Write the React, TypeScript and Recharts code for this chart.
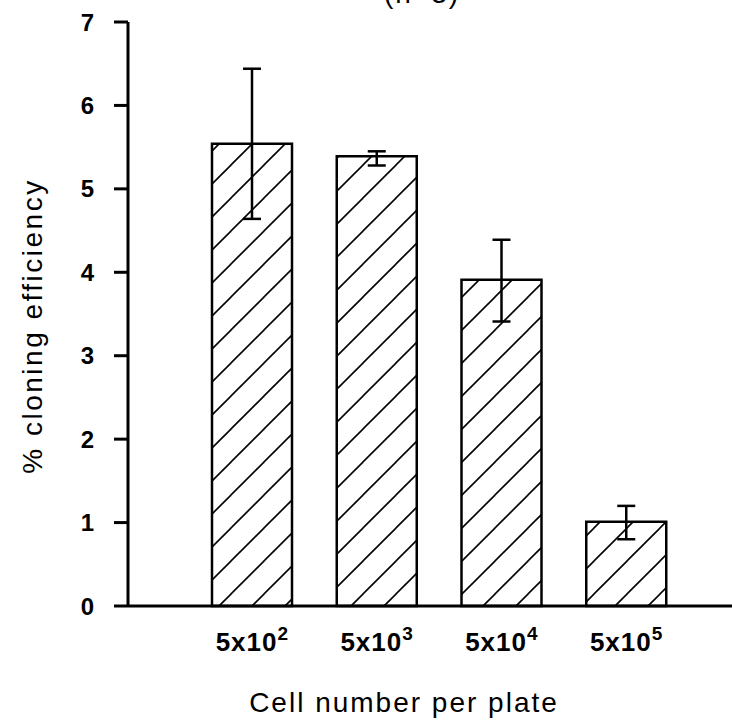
import { Bar, BarChart, ErrorBar, Label, XAxis, YAxis } from 'recharts';

const exponents = ['2', '3', '4', '5'];
const cloningEfficiency = [5.54, 5.39, 3.91, 1.01];
const errLower = [0.9, 0.11, 0.5, 0.21];
const errUpper = [0.9, 0.06, 0.48, 0.19];
const yTicks = [0, 1, 2, 3, 4, 5, 6, 7];

const data = exponents.map((e, i) => ({
  cells: '5x10^' + e,
  value: cloningEfficiency[i],
  err: [errLower[i], errUpper[i]],
}));

const FONT = '"Liberation Sans", Arial, sans-serif';

function CellTick(props: any) {
  const { x, y, payload } = props;
  const exp = String(payload.value).split('^')[1];
  return (
    <text
      x={x}
      y={y + 37}
      textAnchor="middle"
      fontFamily={FONT}
      fontSize={26}
      fontWeight="bold"
      fill="#000"
      letterSpacing={1}
    >
      5x10
      <tspan dy={-11} fontSize={19}>
        {exp}
      </tspan>
    </text>
  );
}

export default function App(): React.ReactElement {
  return (
    <div style={{ position: 'absolute', left: 0, top: 0, background: '#fff' }}>
      <BarChart
        width={732}
        height={724}
        data={data}
        margin={{ top: 22, right: 0, bottom: 0, left: 0 }}
        barCategoryGap={0}
      >
        <defs>
          <pattern id="hatch" patternUnits="userSpaceOnUse" width={33} height={33}>
            <line x1={0} y1={33} x2={33} y2={0} stroke="#000" strokeWidth={1.6} />
            <line x1={-3} y1={3} x2={3} y2={-3} stroke="#000" strokeWidth={1.6} />
            <line x1={30} y1={36} x2={36} y2={30} stroke="#000" strokeWidth={1.6} />
          </pattern>
        </defs>
        <XAxis
          dataKey="cells"
          height={118}
          padding={{ left: 62, right: 43 }}
          tickLine={false}
          axisLine={{ stroke: '#000', strokeWidth: 3 }}
          tick={<CellTick />}
          interval={0}
        >
          <Label
            content={() => (
              <text
                x={404}
                y={712}
                textAnchor="middle"
                fontFamily={FONT}
                fontSize={28}
                letterSpacing={2}
                fill="#000"
              >
                Cell number per plate
              </text>
            )}
          />
        </XAxis>
        <YAxis
          width={128}
          domain={[0, 7]}
          ticks={yTicks}
          tickSize={14}
          tickMargin={20}
          tickLine={{ stroke: '#000', strokeWidth: 3 }}
          axisLine={{ stroke: '#000', strokeWidth: 3 }}
          tick={{ fill: '#000', fontSize: 24, fontWeight: 'bold', fontFamily: FONT }}
        >
          <Label
            content={() => (
              <text
                x={42}
                y={326}
                textAnchor="middle"
                transform="rotate(-90 42 326)"
                fontFamily={FONT}
                fontSize={28}
                letterSpacing={2.5}
                fill="#000"
              >
                % cloning  efficiency
              </text>
            )}
          />
          <Label
            content={() => (
              <text
                x={422}
                y={3}
                textAnchor="middle"
                fontFamily={FONT}
                fontSize={28}
                letterSpacing={2}
                fill="#000"
              >
                (n=3)
              </text>
            )}
          />
        </YAxis>
        <Bar
          dataKey="value"
          barSize={80}
          fill="url(#hatch)"
          stroke="#000"
          strokeWidth={2.5}
          isAnimationActive={false}
        >
          <ErrorBar dataKey="err" width={9} stroke="#000" strokeWidth={2.5} />
        </Bar>
      </BarChart>
    </div>
  );
}
